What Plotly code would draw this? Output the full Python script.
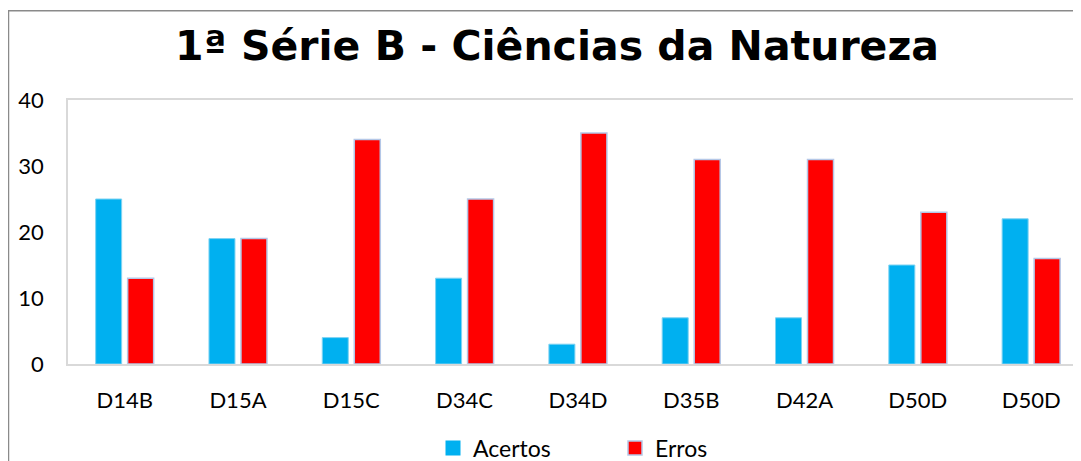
import plotly.graph_objects as go

categories = ["D14B", "D15A", "D15C", "D34C", "D34D", "D35B", "D42A", "D50D", "D50D"]
acertos = [25, 19, 4, 13, 3, 7, 7, 15, 22]
erros = [13, 19, 34, 25, 35, 31, 31, 23, 16]
y_ticks = [0, 10, 20, 30, 40]
title_text = "1ª Série B - Ciências da Natureza"

positions = list(range(len(categories)))

ACERTOS_COLOR = "#00B0F0"
ERROS_COLOR = "#FF0000"

fig = go.Figure()
fig.add_trace(go.Bar(
    x=positions, y=acertos, name="Acertos", showlegend=False,
    marker=dict(color=ACERTOS_COLOR, line=dict(color="#7fd3f2", width=1)),
))
fig.add_trace(go.Bar(
    x=positions, y=erros, name="Erros", showlegend=False,
    marker=dict(color=ERROS_COLOR, line=dict(color="#b4c7e7", width=1.5)),
))
# legend entries with larger square keys
fig.add_trace(go.Scatter(
    x=[None], y=[None], mode="markers", name="Acertos",
    marker=dict(symbol="square", size=15, color=ACERTOS_COLOR, line=dict(width=0)),
))
fig.add_trace(go.Scatter(
    x=[None], y=[None], mode="markers", name="Erros",
    marker=dict(symbol="square", size=14, color=ERROS_COLOR, line=dict(color="#b4c7e7", width=1.5)),
))

# page shows the figure offset by the body's 8px margin; size the figure to fit
OFF = 8
W, H = 1081 - OFF, 461 - OFF
L, R, T = 68 - OFF, 0, 100 - OFF
B = H - (364 - OFF)

fig.update_layout(
    width=W, height=H,
    margin=dict(l=L, r=R, t=T, b=B),
    paper_bgcolor="white", plot_bgcolor="white",
    barmode="group", bargap=0.435, bargroupgap=0.1875,
    font=dict(family="Lato", size=22, color="#000000"),
    title=dict(
        text=title_text,
        font=dict(family="DejaVu Sans", size=41, color="#000000", weight="bold"),
        xref="container", x=(557 - OFF) / W, xanchor="center",
        yref="container", y=1 - (46 - OFF) / H, yanchor="middle",
    ),
    showlegend=True,
    legend=dict(
        orientation="h",
        xref="container", x=(433 - OFF) / W, xanchor="left",
        yref="container", y=1 - (448 - OFF) / H, yanchor="middle",
        font=dict(family="Lato", size=23, color="#000000"),
        entrywidth=137, entrywidthmode="pixels",
        itemwidth=30,
        bgcolor="rgba(0,0,0,0)",
    ),
    xaxis=dict(
        range=[-0.5, 8.44],
        tickmode="array", tickvals=positions, ticktext=categories,
        showgrid=False, zeroline=False,
        showline=True, mirror=True, linecolor="#d9d9d9", linewidth=1.5,
        ticks="", ticklabelstandoff=16,
        tickfont=dict(family="Lato", size=22, color="#000000"),
        fixedrange=True,
    ),
    yaxis=dict(
        range=[0, 40],
        tickmode="array", tickvals=y_ticks,
        showgrid=False, zeroline=False,
        showline=True, mirror=False, linecolor="#d9d9d9", linewidth=1.5,
        ticks="", ticklabelstandoff=18,
        tickfont=dict(family="Lato", size=22, color="#000000"),
        fixedrange=True,
    ),
)

# outer chart border
px_w = W - L - R
px_h = H - T - B
fig.add_shape(
    type="rect", xref="paper", yref="paper",
    x0=(0.5 - L) / px_w, x1=(W + 20 - L) / px_w,
    y0=-1.0, y1=1 + (T - 2.7) / px_h,
    line=dict(color="#8a8a8a", width=1.5), fillcolor="rgba(0,0,0,0)",
    layer="below",
)

fig.write_html("out.html")
